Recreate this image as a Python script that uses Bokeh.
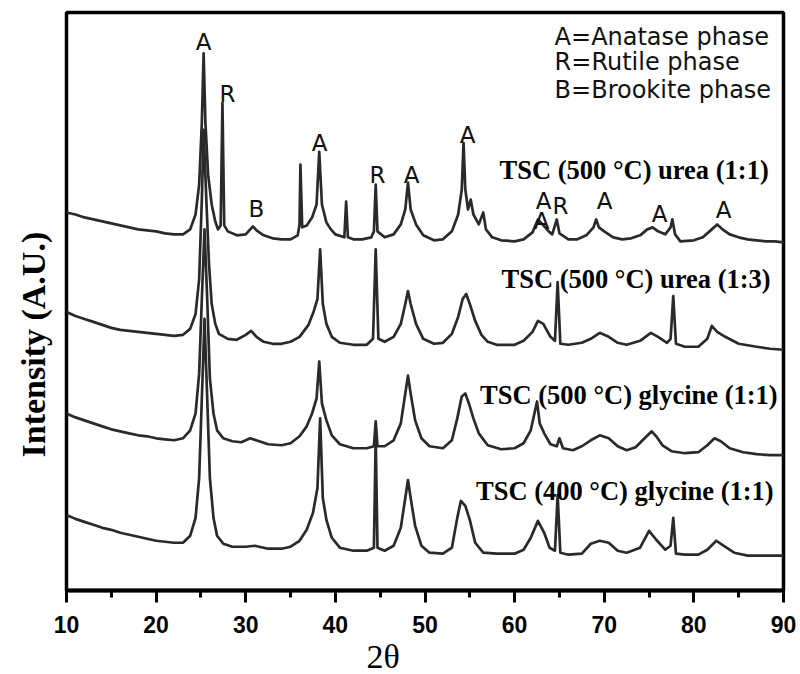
import math
from bokeh.plotting import figure
from bokeh.models import Range1d, FixedTicker, Title
from bokeh.core.properties import value
from bokeh.embed import file_html
from bokeh.resources import INLINE

# ---------------- data (2theta in degrees, intensity in arbitrary units, stacked) -------------
urea11_2theta = [10.0, 11.0, 12.0, 13.0, 14.0, 15.0, 16.0, 17.0, 18.0, 19.0, 20.0, 21.0, 22.0, 23.0,
                 23.8, 24.4, 24.8, 25.1, 25.3, 25.5, 25.8, 26.2, 26.6, 26.9, 27.2, 27.4, 27.6, 28.0,
                 29.0, 30.0, 30.5, 30.8, 31.2, 32.0, 33.0, 34.0, 35.0, 35.8, 36.0, 36.1, 36.3, 36.8,
                 37.4, 37.9, 38.2, 38.5, 39.0, 39.5, 40.0, 41.0, 41.2, 41.4, 42.0, 43.0, 44.0, 44.3,
                 44.5, 44.7, 45.5, 46.5, 47.3, 47.8, 48.1, 48.4, 49.0, 49.8, 51.0, 52.0, 53.0, 53.7,
                 54.1, 54.3, 54.5, 54.8, 55.1, 55.4, 56.0, 56.5, 56.8, 57.5, 58.5, 60.0, 61.0, 62.0,
                 62.6, 63.2, 63.8, 64.2, 64.7, 65.0, 66.0, 67.0, 68.0, 68.8, 69.1, 69.4, 70.0, 71.0,
                 72.0, 73.0, 74.0, 74.8, 75.4, 76.0, 76.8, 77.4, 77.6, 77.9, 78.5, 80.0, 81.0, 82.0,
                 82.6, 83.2, 84.0, 85.0, 86.0, 87.0, 88.0, 89.0, 90.0]
urea11_intensity = [380, 378, 375, 373, 371, 369, 367, 365, 363, 362, 361, 359, 358, 358,
                    363, 378, 408, 470, 540, 470, 418, 388, 371, 363, 367, 490, 367, 361,
                    357, 358, 363, 366, 362, 357, 354, 353, 353, 357, 368, 428, 365, 367,
                    375, 388, 441, 388, 370, 363, 358, 355, 391, 355, 353, 353, 355, 361,
                    408, 361, 355, 358, 368, 383, 410, 383, 368, 357, 352, 353, 361, 378,
                    403, 450, 403, 383, 393, 378, 368, 380, 363, 355, 352, 351, 353, 360,
                    373, 367, 361, 358, 373, 359, 353, 353, 357, 365, 373, 365, 361, 355,
                    353, 354, 357, 363, 365, 361, 358, 365, 373, 358, 351, 352, 355, 363,
                    368, 363, 358, 355, 353, 352, 351, 351, 350]

urea13_2theta = [10.0, 11.0, 12.0, 13.0, 14.0, 15.0, 16.0, 17.0, 18.0, 19.0, 20.0, 21.0, 22.0, 23.0,
                 23.8, 24.4, 24.8, 25.1, 25.3, 25.6, 25.9, 26.2, 26.6, 27.0, 28.0, 29.0, 30.0, 30.6,
                 31.2, 32.0, 33.0, 34.0, 35.0, 36.0, 37.0, 37.6, 38.0, 38.3, 38.6, 39.0, 39.6, 40.5,
                 42.0, 43.5, 44.2, 44.5, 44.8, 45.5, 46.5, 47.3, 47.8, 48.1, 48.4, 49.0, 49.8, 51.0,
                 52.0, 53.0, 53.7, 54.2, 54.6, 55.0, 55.6, 56.3, 57.0, 58.0, 60.0, 61.0, 62.0, 62.6,
                 63.2, 64.0, 64.5, 64.8, 65.1, 66.0, 67.5, 68.5, 69.5, 70.5, 71.5, 72.5, 74.0, 75.2,
                 76.0, 77.0, 77.4, 77.7, 78.0, 79.0, 80.5, 81.5, 82.0, 82.6, 83.5, 85.0, 87.0, 88.5,
                 90.0]
urea13_intensity = [280, 276, 273, 270, 267, 264, 262, 261, 260, 259, 258, 257, 256, 257,
                    263, 278, 313, 393, 463, 393, 328, 288, 268, 258, 253, 252, 257, 261,
                    255, 250, 248, 248, 250, 255, 267, 281, 293, 343, 288, 268, 255, 249,
                    247, 247, 253, 343, 253, 250, 255, 268, 288, 301, 288, 268, 253, 248,
                    249, 258, 275, 293, 298, 288, 271, 257, 250, 247, 247, 251, 260, 271,
                    268, 255, 251, 310, 248, 247, 249, 253, 259, 255, 249, 247, 251, 259,
                    255, 249, 253, 296, 248, 245, 245, 253, 266, 260, 255, 248, 245, 243,
                    242]

gly500_2theta = [10.0, 11.0, 12.0, 13.0, 14.0, 15.0, 16.0, 17.0, 18.0, 19.0, 20.0, 21.0, 22.0, 23.0,
                 23.8, 24.4, 24.8, 25.1, 25.4, 25.7, 26.0, 26.4, 26.8, 27.5, 28.5, 29.5, 30.5, 31.5,
                 32.5, 34.0, 35.0, 36.0, 36.8, 37.4, 37.9, 38.2, 38.5, 39.0, 39.6, 40.5, 42.0, 43.5,
                 44.3, 44.5, 44.7, 45.5, 46.5, 47.3, 47.8, 48.1, 48.4, 48.9, 49.6, 50.5, 52.0, 53.0,
                 53.6, 54.1, 54.5, 54.9, 55.4, 56.0, 57.0, 58.5, 60.0, 61.0, 61.8, 62.5, 62.8, 63.3,
                 64.0, 64.7, 65.0, 65.4, 66.5, 67.5, 68.5, 69.5, 70.5, 71.5, 72.5, 73.5, 74.5, 75.3,
                 75.8, 76.5, 77.5, 79.0, 80.5, 81.5, 82.3, 83.0, 84.0, 85.5, 87.0, 88.5, 90.0]
gly500_intensity = [178, 174, 171, 168, 165, 162, 160, 158, 156, 155, 153, 152, 151, 153,
                    161, 178, 218, 293, 363, 293, 213, 178, 161, 153, 150, 149, 153, 150,
                    147, 146, 148, 155, 165, 178, 193, 230, 188, 171, 156, 147, 143, 143,
                    145, 170, 145, 145, 151, 168, 198, 216, 198, 171, 153, 145, 143, 151,
                    173, 195, 198, 188, 173, 158, 146, 142, 143, 148, 161, 190, 168, 158,
                    147, 145, 153, 143, 141, 145, 151, 156, 153, 145, 141, 144, 153, 160,
                    155, 146, 140, 138, 139, 146, 153, 150, 143, 139, 137, 136, 136]

gly400_2theta = [10.0, 11.0, 12.0, 13.0, 14.0, 15.0, 16.0, 17.0, 18.0, 19.0, 20.0, 21.0, 22.0, 23.0,
                 23.8, 24.4, 24.8, 25.1, 25.4, 25.7, 26.0, 26.4, 26.8, 27.5, 28.5, 30.0, 31.0, 32.5,
                 34.0, 35.0, 36.0, 36.8, 37.5, 38.0, 38.3, 38.6, 39.0, 39.6, 40.5, 42.0, 43.5, 44.3,
                 44.5, 44.7, 45.5, 46.5, 47.3, 47.8, 48.1, 48.4, 48.9, 49.6, 50.5, 52.0, 53.0, 53.6,
                 54.0, 54.5, 55.0, 55.6, 56.5, 58.0, 60.0, 61.0, 61.8, 62.6, 63.3, 63.9, 64.5, 64.8,
                 65.1, 66.0, 67.5, 68.5, 69.5, 70.5, 71.5, 72.5, 74.0, 75.0, 75.8, 76.8, 77.4, 77.7,
                 78.0, 79.0, 80.5, 81.5, 82.5, 83.3, 84.5, 86.0, 88.0, 90.0]
gly400_intensity = [76, 72, 69, 66, 63, 61, 58, 56, 54, 52, 50, 49, 48, 48,
                    55, 73, 113, 193, 273, 193, 113, 73, 55, 47, 44, 44, 45, 42,
                    42, 44, 50, 61, 78, 103, 173, 93, 71, 53, 43, 40, 40, 43,
                    153, 43, 40, 45, 63, 93, 111, 93, 65, 45, 38, 37, 43, 73,
                    90, 85, 71, 48, 38, 37, 37, 41, 53, 70, 58, 43, 40, 96,
                    38, 36, 37, 47, 50, 48, 40, 38, 43, 60, 51, 41, 45, 73,
                    37, 36, 36, 41, 50, 45, 38, 35, 35, 35]

sample_names = ["TSC (500 \u00b0C) urea (1:1)", "TSC (500 \u00b0C) urea (1:3)",
                "TSC (500 \u00b0C) glycine (1:1)", "TSC (400 \u00b0C) glycine (1:1)"]
phase_marks = ["A", "R", "B", "A", "R", "A", "A", "A", "A", "R", "A", "A", "A"]
phase_key = ["A=Anatase phase", "R=Rutile phase", "B=Brookite phase"]
x_ticks = [10, 20, 30, 40, 50, 60, 70, 80, 90]
x_minor_ticks = [15, 25, 35, 45, 55, 65, 75, 85]
x_title = "2\u03b8"
y_title = "Intensity (A.U.)"

# ---------------- main plot ----------------
p = figure(width=800, height=674, x_range=Range1d(10, 90), y_range=Range1d(0, 581),
           output_backend="svg", toolbar_location=None,
           min_border_left=66, min_border_right=17, min_border_top=12, min_border_bottom=81)
p.background_fill_color = "white"
p.border_fill_color = "white"
p.xgrid.visible = False
p.ygrid.visible = False
p.yaxis.visible = False
p.outline_line_color = "black"
p.outline_line_width = 3.5

line_color = "#2a2a2a"
for xs, ys in [(urea11_2theta, urea11_intensity), (urea13_2theta, urea13_intensity),
               (gly500_2theta, gly500_intensity), (gly400_2theta, gly400_intensity)]:
    p.line(xs, ys, line_color=line_color, line_width=2.7, line_join="round")

xa = p.xaxis[0]
xa.ticker = FixedTicker(ticks=x_ticks, minor_ticks=x_minor_ticks)
xa.axis_line_width = 4
xa.axis_line_color = "black"
xa.major_tick_line_width = 3
xa.major_tick_line_color = "black"
xa.major_tick_out = 12
xa.major_tick_in = 0
xa.minor_tick_line_width = 3
xa.minor_tick_line_color = "black"
xa.minor_tick_out = 7
xa.minor_tick_in = 0
xa.major_label_text_font = "Liberation Sans"
xa.major_label_text_font_style = "bold"
xa.major_label_text_font_size = "23px"
xa.major_label_text_color = "black"
xa.major_label_text_line_height = 0.8
xa.major_label_standoff = 13

# axis titles as side titles
p.add_layout(Title(text=x_title, text_font="Liberation Serif", text_font_size="34px",
                   text_font_style="normal", text_color="black", align="left",
                   offset=300, standoff=0, text_line_height=0.6), "below")
p.add_layout(Title(text=y_title, text_font="Liberation Serif", text_font_size="34px",
                   text_font_style="bold", text_color="black", align="left",
                   vertical_align="top", offset=133, standoff=26,
                   text_line_height=0.9), "left")

# phase marks above peaks
mark_x = [25.29, 27.97, 31.2, 38.24, 44.71, 48.5, 54.75, 63.24, 63.01, 65.13, 70.04, 76.18, 83.33]
mark_y = [551, 499, 383, 450, 418, 418, 458, 392, 371, 386, 392, 378, 382]
p.text(x=mark_x, y=mark_y, text=phase_marks, text_font=value("DejaVu Sans"),
       text_font_size="23px", text_align="center", text_baseline="middle", text_color="#111111")

# phase key
p.text(x=[64.46] * 3, y=[556, 531, 503], text=phase_key, text_font=value("DejaVu Sans"),
       text_font_size="24px", text_align="left", text_baseline="middle", text_color="#111111")

# sample labels
p.text(x=[88.35, 88.57, 89.35, 88.9], y=[423, 313, 197, 100], text=sample_names,
       text_font=value("Liberation Serif"), text_font_style="bold",
       text_font_size="26.5px", text_align="right", text_baseline="middle", text_color="black")

open("out.html", "w").write(file_html(p, INLINE))
